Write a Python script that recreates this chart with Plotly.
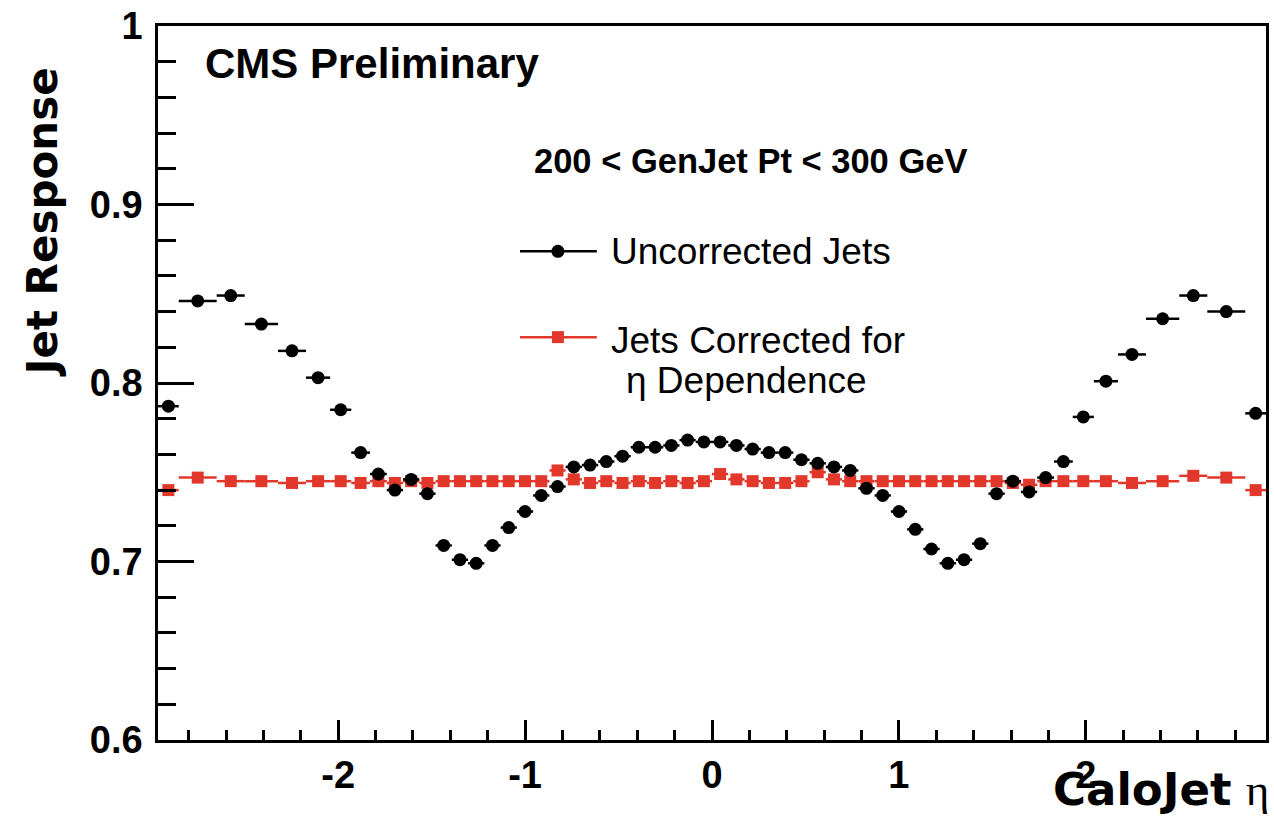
import numpy as np
import plotly.graph_objects as go

# Calorimeter tower boundaries in |eta| (barrel, endcap)
eta_edges_pos = [0.000, 0.087, 0.174, 0.261, 0.348, 0.435, 0.522, 0.609, 0.696,
                 0.783, 0.870, 0.957, 1.044, 1.131, 1.218, 1.305, 1.392, 1.479,
                 1.566, 1.653, 1.740, 1.830, 1.930, 2.043, 2.172, 2.322, 2.500,
                 2.650, 2.853, 2.964]

# Mean jet response per eta bin, ordered from eta = -2.964 to +2.964
response_uncorrected = [
    0.787, 0.846, 0.849, 0.833, 0.818, 0.803, 0.785, 0.761, 0.749, 0.740,
    0.746, 0.738, 0.709, 0.701, 0.699, 0.709, 0.719, 0.728, 0.737, 0.742,
    0.753, 0.754, 0.756, 0.759, 0.764, 0.764, 0.765, 0.768, 0.767,
    0.767, 0.765, 0.763, 0.761, 0.761, 0.757, 0.755, 0.753, 0.751, 0.741,
    0.737, 0.728, 0.718, 0.707, 0.699, 0.701, 0.710, 0.738, 0.745, 0.739,
    0.747, 0.756, 0.781, 0.801, 0.816, 0.836, 0.849, 0.840, 0.783,
]
response_corrected = [
    0.740, 0.747, 0.745, 0.745, 0.744, 0.745, 0.745, 0.744, 0.745, 0.744,
    0.745, 0.744, 0.745, 0.745, 0.745, 0.745, 0.745, 0.745, 0.745, 0.751,
    0.746, 0.744, 0.745, 0.744, 0.745, 0.744, 0.745, 0.744, 0.745,
    0.749, 0.746, 0.745, 0.744, 0.744, 0.745, 0.750, 0.746, 0.745, 0.745,
    0.745, 0.745, 0.745, 0.745, 0.745, 0.745, 0.745, 0.745, 0.744, 0.743,
    0.745, 0.745, 0.745, 0.745, 0.744, 0.745, 0.748, 0.747, 0.740,
]

x_tick_vals = [-2, -1, 0, 1, 2]
x_tick_text = ["-2", "-1", "0", "1", "2"]

edges_pos = np.array(eta_edges_pos)
edges = np.concatenate([-edges_pos[:0:-1], edges_pos])
centers = 0.5 * (edges[:-1] + edges[1:])
half_widths = 0.5 * np.diff(edges)

BLACK = "#000000"
RED = "#e2382b"
FONT = "Liberation Sans"
TITLE_FONT = "DejaVu Sans"

W, H = 1274, 816
ML, MR, MT, MB = 158, 5, 24, 76


def fx(px):
    return (px - ML) / (W - ML - MR)


def fy(py):
    return (H - MB - py) / (H - MT - MB)


fig = go.Figure()

fig.add_trace(go.Scatter(
    x=centers, y=response_corrected, mode="markers", name="Jets Corrected for η Dependence",
    marker=dict(symbol="square", size=12, color=RED),
    error_x=dict(type="data", array=half_widths, width=0, thickness=2.5, color=RED),
    showlegend=False,
))
fig.add_trace(go.Scatter(
    x=centers, y=response_uncorrected, mode="markers", name="Uncorrected Jets",
    marker=dict(symbol="circle", size=13, color=BLACK),
    error_x=dict(type="data", array=half_widths, width=0, thickness=2.5, color=BLACK),
    showlegend=False,
))

annotations = [
    dict(text="<b>CMS Preliminary</b>", x=fx(203), y=fy(62), xanchor="left", yanchor="middle",
         font=dict(size=42, color=BLACK)),
    dict(text="<b>200 < GenJet Pt < 300 GeV</b>", x=fx(752), y=fy(159), xanchor="center",
         yanchor="middle", font=dict(size=34.5, color=BLACK)),
    dict(text="Uncorrected Jets", x=fx(610), y=fy(250), xanchor="left", yanchor="middle",
         font=dict(size=37, color=BLACK)),
    dict(text="Jets Corrected for", x=fx(610), y=fy(339), xanchor="left", yanchor="middle",
         font=dict(size=37, color=BLACK)),
    dict(text="η Dependence", x=fx(625), y=fy(379), xanchor="left", yanchor="middle",
         font=dict(size=37, color=BLACK)),
    dict(text="<b>Jet Response</b>", x=fx(43), y=fy(63), xanchor="center", yanchor="top",
         textangle=-90, font=dict(family=TITLE_FONT, size=42, color=BLACK)),
    dict(text="<b>CaloJet</b> <span style='font-family:Liberation Serif'>η</span>",
         x=fx(1274), y=fy(790), xanchor="right", yanchor="middle",
         font=dict(family=TITLE_FONT, size=45, color=BLACK)),
]
for a in annotations:
    a.update(xref="paper", yref="paper", showarrow=False)

legend_y = [(250, BLACK, "circle"), (336, RED, "rect")]
shapes = []
for py, col, kind in legend_y:
    shapes.append(dict(type="line", xref="paper", yref="paper", x0=fx(521), x1=fx(598),
                       y0=fy(py), y1=fy(py), line=dict(color=col, width=2.5)))
    half = 6.5 if kind == "circle" else 6
    shapes.append(dict(type=kind, xref="paper", yref="paper",
                       xsizemode="pixel", ysizemode="pixel",
                       xanchor=fx(559), yanchor=fy(py),
                       x0=-half, x1=half, y0=-half, y1=half,
                       fillcolor=col, line=dict(color=col, width=0)))

fig.update_layout(
    width=W, height=H, autosize=False,
    margin=dict(l=ML, r=MR, t=MT, b=MB, pad=0),
    paper_bgcolor="white", plot_bgcolor="white",
    font=dict(family=FONT, color=BLACK),
    showlegend=False,
    annotations=annotations,
    shapes=shapes,
)

fig.update_xaxes(
    range=[-2.964, 2.964], showgrid=False, zeroline=False,
    showline=True, linecolor=BLACK, linewidth=2.5, mirror=True,
    ticks="inside", ticklen=20, tickwidth=2.5, tickcolor=BLACK,
    tickvals=x_tick_vals, ticktext=x_tick_text,
    tickfont=dict(family=FONT, size=38, color=BLACK, weight="bold"),
    minor=dict(dtick=0.2, tick0=0, ticks="inside", ticklen=10, tickwidth=2.5,
               tickcolor=BLACK, showgrid=False),
)
fig.update_yaxes(
    range=[0.6, 1.0], showgrid=False, zeroline=False,
    showline=True, linecolor=BLACK, linewidth=2.5, mirror=True,
    ticks="inside", ticklen=36, tickwidth=2.5, tickcolor=BLACK,
    dtick=0.1, tick0=0.6, ticklabelstandoff=5,
    tickfont=dict(family=FONT, size=38, color=BLACK, weight="bold"),
    minor=dict(dtick=0.02, tick0=0.6, ticks="inside", ticklen=18, tickwidth=2.5,
               tickcolor=BLACK, showgrid=False),
)

fig.write_html("out.html")
